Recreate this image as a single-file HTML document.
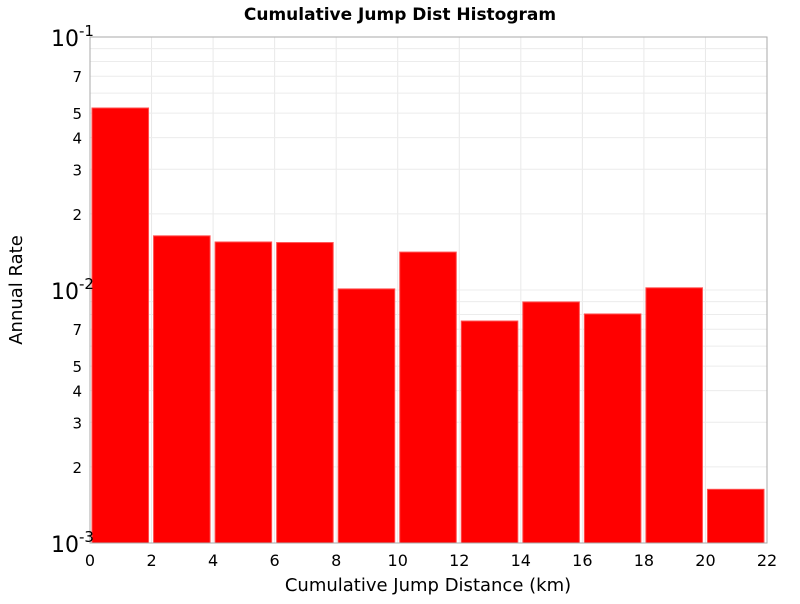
<!DOCTYPE html>
<html><head><meta charset="utf-8"><style>
body{margin:0;background:#fff;font-family:"DejaVu Sans","Liberation Sans",sans-serif}
</style></head><body>
<svg id="chart" width="800" height="600" xmlns="http://www.w3.org/2000/svg" font-family="DejaVu Sans, Liberation Sans, sans-serif">
<text x="400" y="20" text-anchor="middle" font-size="17" font-weight="bold">Cumulative Jump Dist Histogram</text>
<text x="428" y="591" text-anchor="middle" font-size="18">Cumulative Jump Distance (km)</text>
<text transform="translate(22,290) rotate(-90)" text-anchor="middle" font-size="18">Annual Rate</text>
<g id="grid"></g>
<g id="bars"></g>
<rect x="90" y="37" width="677" height="506" fill="none" stroke="#aaa" stroke-width="1"/>
<g id="axes"></g>
</svg>
<script>
const binStarts=[0,2,4,6,8,10,12,14,16,18,20];
const binWidth=2;
const rates=[0.0524,0.01637,0.01548,0.0154,0.0101,0.01412,0.00754,0.00897,0.00804,0.0102,0.00163];
const xTicks=[0,2,4,6,8,10,12,14,16,18,20,22];
const yMinorTicks=[2,3,4,5,7];
const NS="http://www.w3.org/2000/svg";
const L=90,R=767,T=37,B=543,xMin=0,xMax=22,yMinLog=-3,yMaxLog=-1;
function xs(v){return L+(v-xMin)/(xMax-xMin)*(R-L);}
function ys(v){return B-(Math.log10(v)-yMinLog)/(yMaxLog-yMinLog)*(B-T);}
function mk(tag,attrs,parent){const e=document.createElementNS(NS,tag);for(const k in attrs)e.setAttribute(k,attrs[k]);parent.appendChild(e);return e;}
const grid=document.getElementById('grid'),bars=document.getElementById('bars'),axes=document.getElementById('axes');
xTicks.forEach(t=>{
  const g=mk('line',{x1:xs(t),x2:xs(t),y1:T,y2:B,stroke:'#e8e8e8'},grid);
  
  
  const tx=mk('text',{x:xs(t),y:566,'text-anchor':'middle','font-size':'16'},axes);
  tx.textContent=t;
  
  
});
for(let d=-3;d<-1;d++){
  for(let m=1;m<10;m++){
    const v=m*Math.pow(10,d);
    const g=mk('line',{x1:L,x2:R,y1:ys(v),y2:ys(v),stroke:'#ececec'},grid);
    
    
    if(yMinorTicks.includes(m)){
      const tx=mk('text',{x:82,y:ys(v)+6,'text-anchor':'end','font-size':'15'},axes);
      tx.textContent=m;
      
      
    }
  }
}
[-3,-2,-1].forEach(d=>{
  const tx=mk('text',{x:51,y:ys(Math.pow(10,d))+9,'font-size':'22'},axes);
  tx.textContent='10';
  const sup=mk('tspan',{dy:'-10','font-size':'15'},tx);
  sup.textContent=String(d);
  
  
});
binStarts.forEach((s,i)=>{
  const x0=xs(s)+2,x1=xs(s+binWidth)-3,y=ys(rates[i]);
  const r=mk('rect',{x:x0,y:y,width:x1-x0,height:B-y,fill:'#ff0000',stroke:'#ff5050','stroke-width':'1'},bars);
  
  
});
</script>
</body></html>
